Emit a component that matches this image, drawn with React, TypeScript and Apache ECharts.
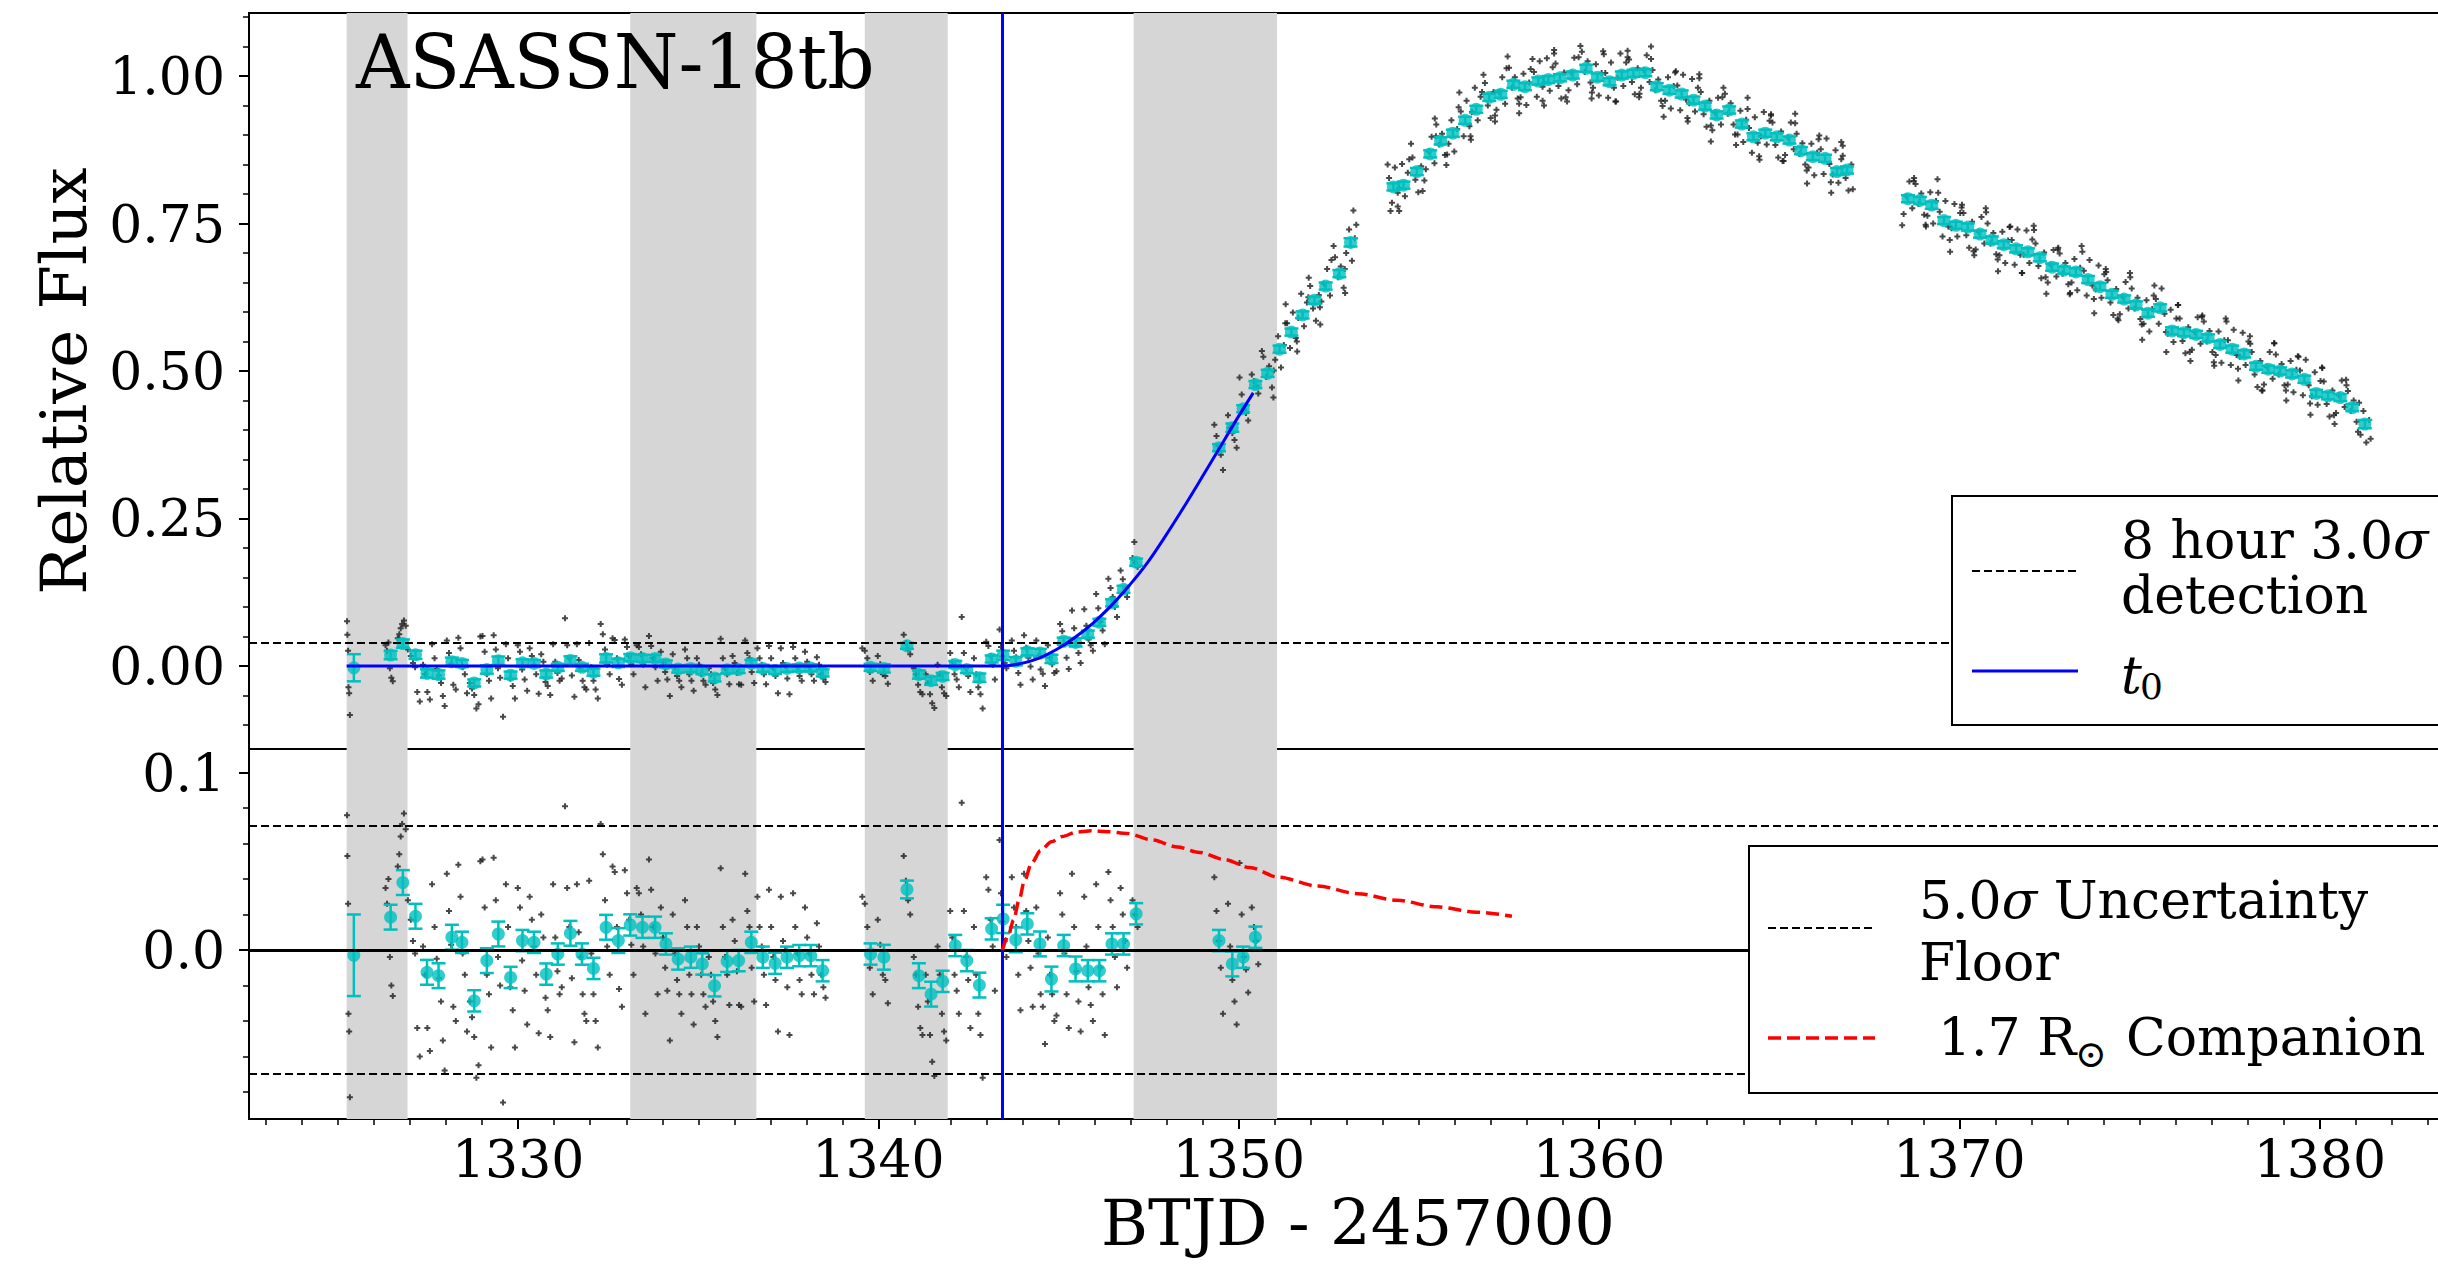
import React, { useEffect, useRef } from "react";
import * as echarts from "echarts";

const FONT = "'DejaVu Serif', 'Liberation Serif', serif";
const CYAN = "#00bfbf";

// ---- axes ----
const xRange = [1322.53, 1386];
const topRange = [-0.1407, 1.1068];
const botRange = [-0.0953, 0.1133];
const xTicks = [1330, 1340, 1350, 1360, 1370, 1380];
const topTicks = [0, 0.25, 0.5, 0.75, 1.0];
const botTicks = [0, 0.1];

// ---- reference marks ----
const gapBands = [
  [1325.24, 1326.93],
  [1333.11, 1336.61],
  [1339.62, 1341.92],
  [1347.08, 1351.06],
];
const t0 = 1343.44;
const detectionLevel = 0.0395;
const floorUpper = 0.066;
const floorLower = -0.067;

// ---- binned (8 hour) points: [BTJD, value, error] ----
const baseBins = [
  [1325.44, -0.003, 0.023], [1326.46, 0.0185, 0.007], [1326.8, 0.038, 0.007], [1327.15, 0.019, 0.007],
  [1327.47, -0.0126, 0.007], [1327.79, -0.0145, 0.007], [1328.16, 0.0072, 0.007], [1328.44, 0.0043, 0.006],
  [1328.78, -0.0287, 0.006], [1329.13, -0.006, 0.007], [1329.45, 0.009, 0.007], [1329.79, -0.0155, 0.006],
  [1330.12, 0.0053, 0.006], [1330.44, 0.0043, 0.006], [1330.78, -0.0136, 0.006], [1331.1, -0.0023, 0.006],
  [1331.45, 0.0094, 0.007], [1331.77, -0.0023, 0.006], [1332.09, -0.0104, 0.006], [1332.44, 0.0128, 0.007],
  [1332.78, 0.0053, 0.007], [1333.11, 0.0141, 0.006], [1333.45, 0.0128, 0.006], [1333.8, 0.0128, 0.006],
  [1334.1, 0.0034, 0.006], [1334.44, -0.0051, 0.006], [1334.79, -0.0041, 0.006], [1335.11, -0.0079, 0.006],
  [1335.45, -0.0202, 0.006], [1335.8, -0.0064, 0.006], [1336.12, -0.006, 0.006], [1336.47, 0.0043, 0.006],
  [1336.79, -0.0041, 0.006], [1337.13, -0.0075, 0.006], [1337.46, -0.0041, 0.006], [1337.8, -0.0032, 0.006],
  [1338.12, -0.0032, 0.006], [1338.45, -0.0117, 0.006], [1339.78, -0.0023, 0.006], [1340.15, -0.0041, 0.007],
  [1340.79, 0.0341, 0.005], [1341.12, -0.0145, 0.007], [1341.46, -0.0249, 0.007], [1341.78, -0.0177, 0.006],
  [1342.13, 0.0025, 0.006], [1342.45, -0.006, 0.006], [1342.8, -0.0198, 0.007], [1343.14, 0.0119, 0.006],
];
const riseResidBins = [
  [1343.46, 0.0175, 0.008], [1343.81, 0.0057, 0.007], [1344.13, 0.0147, 0.006], [1344.48, 0.0034, 0.007],
  [1344.8, -0.0164, 0.007], [1345.14, 0.0025, 0.006], [1345.47, -0.0107, 0.007], [1345.81, -0.0117, 0.006],
  [1346.13, -0.0117, 0.006], [1346.48, 0.0034, 0.006], [1346.8, 0.0034, 0.006], [1347.15, 0.0204, 0.006],
  [1349.45, 0.0053, 0.006], [1349.82, -0.0079, 0.007], [1350.12, -0.0041, 0.006], [1350.46, 0.0072, 0.006],
];
const riseFluxBins = [
  [1343.46, 0.018, 0.008], [1343.81, 0.008, 0.007], [1344.13, 0.024, 0.006], [1344.48, 0.022, 0.007],
  [1344.8, 0.012, 0.007], [1345.14, 0.042, 0.006], [1345.47, 0.04, 0.007], [1345.81, 0.054, 0.006],
  [1346.13, 0.074, 0.006], [1346.48, 0.107, 0.006], [1346.8, 0.13, 0.006], [1347.15, 0.176, 0.006],
  [1349.45, 0.37, 0.006], [1349.82, 0.404, 0.007], [1350.12, 0.436, 0.006], [1350.46, 0.477, 0.006],
];
const lateBins = [
  [1350.8, 0.496, 0.006], [1351.13, 0.537, 0.006], [1351.46, 0.566, 0.006], [1351.77, 0.595, 0.006],
  [1352.1, 0.62, 0.006], [1352.41, 0.644, 0.006], [1352.79, 0.665, 0.006], [1353.1, 0.718, 0.007],
  [1354.29, 0.812, 0.006], [1354.57, 0.815, 0.006], [1354.94, 0.838, 0.006], [1355.31, 0.868, 0.006],
  [1355.6, 0.89, 0.006], [1355.94, 0.903, 0.006], [1356.28, 0.925, 0.006], [1356.59, 0.9435, 0.006],
  [1356.95, 0.9638, 0.006], [1357.27, 0.969, 0.006], [1357.62, 0.986, 0.006], [1357.94, 0.982, 0.006],
  [1358.31, 0.9915, 0.006], [1358.59, 0.994, 0.006], [1358.91, 0.997, 0.006], [1359.27, 1.0017, 0.006],
  [1359.64, 1.013, 0.006], [1359.95, 0.998, 0.006], [1360.29, 0.9903, 0.006], [1360.63, 1.0017, 0.006],
  [1360.95, 1.0045, 0.006], [1361.28, 1.0056, 0.006], [1361.6, 0.982, 0.006], [1361.95, 0.976, 0.006],
  [1362.29, 0.9695, 0.006], [1362.62, 0.959, 0.006], [1362.94, 0.949, 0.006], [1363.26, 0.934, 0.006],
  [1363.61, 0.9424, 0.006], [1363.96, 0.9186, 0.006], [1364.28, 0.897, 0.006], [1364.61, 0.903, 0.006],
  [1364.93, 0.897, 0.006], [1365.28, 0.8915, 0.006], [1365.6, 0.8735, 0.006], [1365.93, 0.8633, 0.006],
  [1366.27, 0.8605, 0.006], [1366.6, 0.838, 0.006], [1366.88, 0.8407, 0.006],
  [1368.57, 0.792, 0.006], [1368.9, 0.789, 0.006], [1369.23, 0.781, 0.006], [1369.57, 0.755, 0.006],
  [1369.9, 0.747, 0.006], [1370.23, 0.744, 0.006], [1370.57, 0.732, 0.006], [1370.9, 0.722, 0.006],
  [1371.23, 0.714, 0.006], [1371.57, 0.707, 0.006], [1371.9, 0.702, 0.006], [1372.23, 0.692, 0.006],
  [1372.57, 0.676, 0.006], [1372.9, 0.671, 0.006], [1373.23, 0.668, 0.006], [1373.57, 0.655, 0.006],
  [1373.9, 0.643, 0.006], [1374.23, 0.63, 0.006], [1374.57, 0.622, 0.006], [1374.9, 0.612, 0.006],
  [1375.23, 0.598, 0.006], [1375.57, 0.607, 0.006], [1375.9, 0.568, 0.006], [1376.23, 0.565, 0.006],
  [1376.57, 0.562, 0.006], [1376.9, 0.556, 0.006], [1377.23, 0.545, 0.006], [1377.57, 0.537, 0.006],
  [1377.9, 0.529, 0.006], [1378.23, 0.508, 0.006], [1378.57, 0.503, 0.006], [1378.9, 0.5, 0.006],
  [1379.23, 0.495, 0.006], [1379.57, 0.486, 0.006], [1379.9, 0.462, 0.006], [1380.23, 0.458, 0.006],
  [1380.57, 0.455, 0.006], [1380.9, 0.438, 0.006], [1381.25, 0.41, 0.007],
];

// ---- individual (unbinned) points: [BTJD, value] ----
// before t0 the model is flat at zero, so flux and residual coincide
const baseRaw = [
  [1325.25, 0.076], [1325.26, 0.053], [1325.28, 0.026], [1325.29, -0.036], [1325.31, -0.046], [1325.33, -0.083],
  [1326.32, 0.035], [1326.36, 0.026], [1326.4, 0.04], [1326.44, -0.004], [1326.48, -0.02], [1326.52, -0.026],
  [1326.66, 0.047], [1326.7, 0.054], [1326.74, 0.064], [1326.78, 0.071], [1326.83, 0.077], [1326.88, 0.068], [1326.94, 0.028],
  [1327.02, 0.017], [1327.08, 0.005], [1327.14, -0.002], [1327.2, -0.044], [1327.27, -0.06],
  [1327.36, 0.002], [1327.42, -0.014], [1327.48, -0.044], [1327.55, -0.057], [1327.61, 0.037],
  [1327.68, 0.013], [1327.74, -0.005], [1327.8, -0.016], [1327.86, -0.029], [1327.91, -0.051], [1327.96, -0.068],
  [1328.02, 0.043], [1328.08, 0.022], [1328.14, 0.003], [1328.2, -0.032], [1328.27, -0.04],
  [1328.34, 0.048], [1328.4, 0.03], [1328.46, -0.002], [1328.52, -0.014], [1328.58, -0.046],
  [1328.66, -0.029], [1328.72, -0.038], [1328.78, -0.049], [1328.84, -0.072], [1328.9, -0.065], [1328.95, 0.05],
  [1329.01, 0.051], [1329.07, 0.024], [1329.13, -0.014], [1329.19, -0.025], [1329.25, -0.055],
  [1329.32, 0.052], [1329.38, 0.028], [1329.44, -0.004], [1329.5, -0.02], [1329.58, -0.086],
  [1329.66, 0.037], [1329.72, 0.013], [1329.78, -0.021], [1329.85, -0.034], [1329.91, -0.055],
  [1329.99, 0.035], [1330.05, 0.024], [1330.11, -0.006], [1330.18, -0.023], [1330.25, -0.042],
  [1330.32, 0.03], [1330.38, 0.017], [1330.44, 0.002], [1330.5, -0.014], [1330.57, -0.047],
  [1330.64, 0.02], [1330.7, 0.007], [1330.76, -0.027], [1330.82, -0.034], [1330.89, -0.049],
  [1330.97, 0.037], [1331.03, 0.007], [1331.09, -0.012], [1331.15, -0.025], [1331.21, -0.021],
  [1331.3, 0.081], [1331.36, 0.035], [1331.42, 0.013], [1331.49, -0.016], [1331.56, -0.052],
  [1331.63, 0.037], [1331.68, 0.01], [1331.73, -0.004], [1331.79, -0.025], [1331.84, -0.036], [1331.89, -0.04],
  [1331.97, 0.039], [1332.03, -0.002], [1332.09, -0.025], [1332.15, -0.04], [1332.21, -0.055],
  [1332.29, 0.071], [1332.35, 0.054], [1332.41, 0.028], [1332.47, 0.002], [1332.54, -0.014],
  [1332.62, 0.047], [1332.68, 0.044], [1332.74, 0.013], [1332.8, -0.022], [1332.88, -0.032],
  [1332.96, 0.045], [1333.02, 0.032], [1333.08, 0.017], [1333.14, 0.003], [1333.2, -0.014],
  [1333.29, 0.035], [1333.35, 0.032], [1333.41, 0.02], [1333.47, 0.002], [1333.53, -0.036],
  [1333.63, 0.051], [1333.69, 0.034], [1333.75, 0.013], [1333.81, -0.002], [1333.87, -0.025],
  [1333.96, 0.024], [1334.02, 0.007], [1334.08, -0.01], [1334.14, -0.023], [1334.21, -0.051],
  [1334.29, 0.02], [1334.35, -0.002], [1334.41, -0.017], [1334.47, -0.025], [1334.53, -0.036],
  [1334.63, 0.028], [1334.69, 0.013], [1334.75, -0.014], [1334.81, -0.025], [1334.87, -0.042],
  [1334.96, 0.013], [1335.02, 0.002], [1335.08, -0.014], [1335.14, -0.025], [1335.2, -0.032],
  [1335.29, -0.004], [1335.35, -0.014], [1335.41, -0.029], [1335.47, -0.04], [1335.53, -0.049],
  [1335.62, 0.046], [1335.68, 0.013], [1335.74, -0.004], [1335.8, -0.014], [1335.86, -0.031],
  [1335.95, 0.017], [1336.01, 0.005], [1336.07, -0.012], [1336.13, -0.031], [1336.19, -0.032],
  [1336.3, 0.043], [1336.36, 0.022], [1336.42, 0.013], [1336.48, -0.01], [1336.55, -0.029],
  [1336.64, 0.03], [1336.7, 0.013], [1336.76, 0.002], [1336.82, -0.014], [1336.88, -0.031],
  [1336.96, 0.034], [1337.02, 0.013], [1337.08, -0.004], [1337.14, -0.017], [1337.21, -0.046],
  [1337.29, 0.03], [1337.35, 0.005], [1337.41, 0.0], [1337.47, -0.021], [1337.53, -0.048],
  [1337.63, 0.032], [1337.69, 0.013], [1337.75, -0.002], [1337.81, -0.017], [1337.87, -0.025],
  [1337.96, 0.024], [1338.02, 0.007], [1338.08, -0.002], [1338.14, -0.014], [1338.21, -0.025],
  [1338.29, 0.015], [1338.35, 0.002], [1338.41, -0.014], [1338.47, -0.021], [1338.53, -0.027],
  [1339.55, 0.03], [1339.62, 0.026], [1339.69, 0.013], [1339.76, -0.01], [1339.84, -0.025],
  [1339.98, 0.017], [1340.05, 0.003], [1340.12, -0.014], [1340.19, -0.017], [1340.26, -0.03],
  [1340.7, 0.053], [1340.76, 0.039], [1340.82, 0.028], [1340.88, 0.02],
  [1340.98, -0.004], [1341.04, -0.014], [1341.1, -0.032], [1341.16, -0.044], [1341.22, -0.048],
  [1341.31, -0.014], [1341.37, -0.029], [1341.43, -0.048], [1341.49, -0.063], [1341.55, -0.071],
  [1341.64, 0.002], [1341.7, -0.014], [1341.76, -0.036], [1341.82, -0.046], [1341.88, -0.051],
  [1341.99, 0.022], [1342.05, 0.007], [1342.11, -0.014], [1342.17, -0.023], [1342.23, -0.036],
  [1342.31, 0.083], [1342.37, 0.022], [1342.43, -0.004], [1342.49, -0.017], [1342.55, -0.044],
  [1342.65, 0.013], [1342.71, -0.014], [1342.77, -0.036], [1342.83, -0.048], [1342.89, -0.072],
  [1342.99, 0.041], [1343.05, 0.034], [1343.11, 0.017], [1343.17, 0.002], [1343.23, -0.023],
];
const riseRawResid = [
  [1343.36, 0.062], [1343.4, 0.032], [1343.44, 0.016], [1343.5, 0.005], [1343.55, -0.004],
  [1343.7, 0.041], [1343.76, 0.024], [1343.82, 0.013], [1343.88, -0.014], [1343.94, -0.034],
  [1344.04, 0.043], [1344.1, 0.022], [1344.16, 0.005], [1344.22, -0.01], [1344.28, -0.032],
  [1344.38, 0.024], [1344.44, -0.002], [1344.5, -0.025], [1344.56, -0.032], [1344.62, -0.053],
  [1344.7, 0.007], [1344.76, -0.014], [1344.82, -0.025], [1344.88, -0.04], [1344.94, -0.037],
  [1345.04, 0.032], [1345.1, 0.02], [1345.16, -0.002], [1345.22, -0.025], [1345.28, -0.044],
  [1345.37, 0.043], [1345.43, 0.013], [1345.49, -0.012], [1345.55, -0.029], [1345.61, -0.046],
  [1345.71, 0.03], [1345.77, 0.002], [1345.83, -0.021], [1345.89, -0.031], [1345.95, -0.04],
  [1346.04, 0.037], [1346.1, 0.013], [1346.16, -0.01], [1346.22, -0.025], [1346.28, -0.048],
  [1346.38, 0.044], [1346.44, 0.028], [1346.5, 0.013], [1346.56, -0.004], [1346.62, -0.021],
  [1346.72, 0.035], [1346.78, 0.02], [1346.84, 0.005], [1346.9, -0.01],
  [1347.05, 0.028], [1347.12, 0.02], [1347.19, 0.013],
  [1349.32, 0.041], [1349.38, 0.022], [1349.44, 0.005], [1349.5, -0.01], [1349.56, -0.036],
  [1349.7, 0.026], [1349.76, 0.002], [1349.82, -0.017], [1349.88, -0.029], [1349.94, -0.042],
  [1350.02, 0.049], [1350.08, 0.02], [1350.14, -0.004], [1350.2, -0.011], [1350.26, -0.024],
  [1350.36, 0.024], [1350.42, 0.013], [1350.48, 0.005], [1350.54, -0.008],
];
const riseRawFlux = [
  [1343.36, 0.062], [1343.4, 0.032], [1343.44, 0.016], [1343.5, 0.005], [1343.55, -0.004],
  [1343.7, 0.043], [1343.76, 0.026], [1343.82, 0.015], [1343.88, -0.012], [1343.94, -0.032],
  [1344.04, 0.052], [1344.1, 0.031], [1344.16, 0.014], [1344.22, -0.001], [1344.28, -0.023],
  [1344.38, 0.043], [1344.44, 0.017], [1344.5, -0.006], [1344.56, -0.013], [1344.62, -0.034],
  [1344.7, 0.035], [1344.76, 0.014], [1344.82, 0.003], [1344.88, -0.012], [1344.94, -0.009],
  [1345.04, 0.071], [1345.1, 0.059], [1345.16, 0.037], [1345.22, 0.014], [1345.28, -0.005],
  [1345.37, 0.094], [1345.43, 0.064], [1345.49, 0.039], [1345.55, 0.022], [1345.61, 0.005],
  [1345.71, 0.096], [1345.77, 0.068], [1345.83, 0.045], [1345.89, 0.035], [1345.95, 0.026],
  [1346.04, 0.122], [1346.1, 0.098], [1346.16, 0.075], [1346.22, 0.06], [1346.28, 0.037],
  [1346.38, 0.148], [1346.44, 0.132], [1346.5, 0.117], [1346.56, 0.1], [1346.62, 0.083],
  [1346.72, 0.162], [1346.78, 0.147], [1346.84, 0.132], [1346.9, 0.117],
  [1347.05, 0.183], [1347.1, 0.21], [1347.12, 0.175], [1347.19, 0.168],
  [1349.32, 0.409], [1349.38, 0.39], [1349.44, 0.373], [1349.5, 0.358], [1349.56, 0.332],
  [1349.7, 0.425], [1349.76, 0.404], [1349.82, 0.395], [1349.88, 0.383], [1349.94, 0.37],
  [1350.02, 0.489], [1350.08, 0.46], [1350.14, 0.436], [1350.2, 0.429], [1350.26, 0.416],
  [1350.36, 0.494], [1350.42, 0.483], [1350.48, 0.475], [1350.54, 0.462],
];
const lateRaw = [
  [1350.68, 0.524], [1350.76, 0.49], [1350.84, 0.508], [1350.92, 0.472],
  [1351.01, 0.519], [1351.09, 0.559], [1351.17, 0.506], [1351.25, 0.544],
  [1351.34, 0.581], [1351.42, 0.539], [1351.5, 0.599], [1351.58, 0.556],
  [1351.65, 0.59], [1351.73, 0.631], [1351.81, 0.576], [1351.89, 0.616],
  [1351.98, 0.644], [1352.06, 0.606], [1352.14, 0.585], [1352.22, 0.629],
  [1352.29, 0.618], [1352.37, 0.648], [1352.45, 0.673], [1352.53, 0.628],
  [1352.67, 0.693], [1352.75, 0.659], [1352.83, 0.677], [1352.91, 0.641],
  [1352.98, 0.7], [1353.06, 0.74], [1353.14, 0.687], [1353.18, 0.772], [1353.22, 0.725],
  [1354.17, 0.827], [1354.21, 0.771], [1354.25, 0.785], [1354.33, 0.845], [1354.41, 0.802],
  [1354.45, 0.81], [1354.53, 0.851], [1354.61, 0.796], [1354.69, 0.836],
  [1354.82, 0.862], [1354.9, 0.824], [1354.98, 0.803], [1355.06, 0.847],
  [1355.19, 0.842], [1355.27, 0.872], [1355.35, 0.897], [1355.43, 0.852],
  [1355.48, 0.918], [1355.56, 0.884], [1355.64, 0.902], [1355.72, 0.866],
  [1355.82, 0.885], [1355.9, 0.925], [1355.98, 0.872], [1356.06, 0.91],
  [1356.16, 0.94], [1356.24, 0.898], [1356.32, 0.958], [1356.4, 0.915],
  [1356.47, 0.939], [1356.55, 0.98], [1356.63, 0.925], [1356.71, 0.965],
  [1356.83, 0.988], [1356.91, 0.95], [1356.99, 0.929], [1357.07, 0.973],
  [1357.15, 0.943], [1357.23, 0.973], [1357.31, 0.998], [1357.39, 0.953],
  [1357.5, 1.014], [1357.58, 0.98], [1357.66, 0.998], [1357.74, 0.962],
  [1357.82, 0.964], [1357.9, 1.004], [1357.98, 0.951], [1358.06, 0.989],
  [1358.19, 1.007], [1358.27, 0.965], [1358.35, 1.025], [1358.43, 0.982],
  [1358.47, 0.989], [1358.55, 1.03], [1358.63, 0.975], [1358.71, 1.015],
  [1358.79, 1.021], [1358.87, 0.983], [1358.95, 0.962], [1359.03, 1.006],
  [1359.15, 0.976], [1359.23, 1.006], [1359.31, 1.031], [1359.39, 0.986],
  [1359.52, 1.041], [1359.6, 1.007], [1359.68, 1.025], [1359.76, 0.989],
  [1359.83, 0.98], [1359.91, 1.02], [1359.99, 0.967], [1360.07, 1.005],
  [1360.17, 1.005], [1360.25, 0.963], [1360.33, 1.023], [1360.41, 0.98],
  [1360.51, 0.997], [1360.59, 1.038], [1360.67, 0.983], [1360.75, 1.023],
  [1360.83, 1.028], [1360.91, 0.99], [1360.99, 0.969], [1361.07, 1.013],
  [1361.16, 0.98], [1361.24, 1.01], [1361.32, 1.035], [1361.4, 0.99],
  [1361.48, 1.01], [1361.56, 0.976], [1361.64, 0.994], [1361.72, 0.958],
  [1361.83, 0.958], [1361.91, 0.998], [1361.99, 0.945], [1362.07, 0.983],
  [1362.17, 0.984], [1362.25, 0.942], [1362.33, 1.002], [1362.41, 0.96],
  [1362.5, 0.954], [1362.58, 0.995], [1362.66, 0.94], [1362.74, 0.98],
  [1362.82, 0.973], [1362.9, 0.935], [1362.98, 0.914], [1363.06, 0.958],
  [1363.14, 0.908], [1363.22, 0.938], [1363.3, 0.963], [1363.38, 0.918],
  [1363.49, 0.97], [1363.57, 0.936], [1363.65, 0.954], [1363.73, 0.918],
  [1363.84, 0.901], [1363.92, 0.941], [1364.0, 0.888], [1364.08, 0.926],
  [1364.16, 0.912], [1364.24, 0.87], [1364.32, 0.93], [1364.4, 0.887],
  [1364.49, 0.898], [1364.57, 0.939], [1364.65, 0.884], [1364.73, 0.924],
  [1364.81, 0.921], [1364.89, 0.883], [1364.97, 0.862], [1365.05, 0.906],
  [1365.16, 0.866], [1365.24, 0.896], [1365.32, 0.921], [1365.4, 0.876],
  [1365.48, 0.902], [1365.56, 0.868], [1365.64, 0.886], [1365.72, 0.85],
  [1365.81, 0.845], [1365.89, 0.885], [1365.97, 0.832], [1366.05, 0.87],
  [1366.15, 0.876], [1366.23, 0.834], [1366.31, 0.894], [1366.39, 0.851],
  [1366.48, 0.833], [1366.56, 0.874], [1366.64, 0.819], [1366.72, 0.859],
  [1366.76, 0.865], [1366.84, 0.827], [1366.92, 0.806], [1367.0, 0.85],
  [1368.45, 0.766], [1368.53, 0.796], [1368.61, 0.821], [1368.69, 0.776],
  [1368.78, 0.817], [1368.86, 0.783], [1368.94, 0.801], [1369.02, 0.765],
  [1369.11, 0.763], [1369.19, 0.803], [1369.27, 0.75], [1369.35, 0.788],
  [1369.45, 0.77], [1369.53, 0.728], [1369.61, 0.788], [1369.69, 0.745],
  [1369.78, 0.742], [1369.86, 0.783], [1369.94, 0.728], [1370.02, 0.768],
  [1370.11, 0.768], [1370.19, 0.73], [1370.27, 0.709], [1370.35, 0.753],
  [1370.45, 0.706], [1370.53, 0.736], [1370.61, 0.761], [1370.69, 0.716],
  [1370.78, 0.75], [1370.86, 0.716], [1370.94, 0.734], [1371.02, 0.698],
  [1371.11, 0.696], [1371.19, 0.736], [1371.27, 0.683], [1371.35, 0.721],
  [1371.45, 0.722], [1371.53, 0.68], [1371.61, 0.74], [1371.69, 0.697],
  [1371.78, 0.697], [1371.86, 0.738], [1371.94, 0.683], [1372.02, 0.723],
  [1372.11, 0.716], [1372.19, 0.678], [1372.27, 0.657], [1372.35, 0.701],
  [1372.45, 0.65], [1372.53, 0.68], [1372.61, 0.705], [1372.69, 0.66],
  [1372.78, 0.699], [1372.86, 0.665], [1372.94, 0.683], [1373.02, 0.647],
  [1373.11, 0.65], [1373.19, 0.69], [1373.27, 0.637], [1373.35, 0.675],
  [1373.45, 0.67], [1373.53, 0.628], [1373.61, 0.688], [1373.69, 0.645],
  [1373.78, 0.638], [1373.86, 0.679], [1373.94, 0.624], [1374.02, 0.664],
  [1374.11, 0.654], [1374.19, 0.616], [1374.27, 0.595], [1374.35, 0.639],
  [1374.45, 0.596], [1374.53, 0.626], [1374.61, 0.651], [1374.69, 0.606],
  [1374.78, 0.64], [1374.86, 0.606], [1374.94, 0.624], [1375.02, 0.588],
  [1375.11, 0.58], [1375.19, 0.62], [1375.27, 0.567], [1375.35, 0.605],
  [1375.45, 0.622], [1375.53, 0.58], [1375.61, 0.64], [1375.69, 0.597],
  [1375.78, 0.563], [1375.86, 0.604], [1375.94, 0.549], [1376.02, 0.589],
  [1376.11, 0.589], [1376.19, 0.551], [1376.27, 0.53], [1376.35, 0.574],
  [1376.45, 0.536], [1376.53, 0.566], [1376.61, 0.591], [1376.69, 0.546],
  [1376.78, 0.584], [1376.86, 0.55], [1376.94, 0.568], [1377.02, 0.532],
  [1377.11, 0.527], [1377.19, 0.567], [1377.27, 0.514], [1377.35, 0.552],
  [1377.45, 0.552], [1377.53, 0.51], [1377.61, 0.57], [1377.69, 0.527],
  [1377.78, 0.524], [1377.86, 0.565], [1377.94, 0.51], [1378.02, 0.55],
  [1378.11, 0.532], [1378.19, 0.494], [1378.27, 0.473], [1378.35, 0.517],
  [1378.45, 0.477], [1378.53, 0.507], [1378.61, 0.532], [1378.69, 0.487],
  [1378.78, 0.528], [1378.86, 0.494], [1378.94, 0.512], [1379.02, 0.476],
  [1379.11, 0.477], [1379.19, 0.517], [1379.27, 0.464], [1379.35, 0.502],
  [1379.45, 0.501], [1379.53, 0.459], [1379.61, 0.519], [1379.69, 0.476],
  [1379.78, 0.457], [1379.86, 0.498], [1379.94, 0.443], [1380.02, 0.483],
  [1380.11, 0.482], [1380.19, 0.444], [1380.27, 0.423], [1380.35, 0.467],
  [1380.45, 0.429], [1380.53, 0.459], [1380.61, 0.484], [1380.69, 0.439],
  [1380.78, 0.466], [1380.86, 0.432], [1380.94, 0.45], [1381.02, 0.414],
  [1381.13, 0.392], [1381.21, 0.432], [1381.29, 0.379], [1381.37, 0.417],
];
// outer envelope of the scatter after the rise
const lateRawOuter = [
  [1350.64, 0.534], [1350.96, 0.455], [1350.97, 0.501], [1351.29, 0.581], [1351.3, 0.613], [1351.62, 0.533],
  [1351.61, 0.55], [1351.93, 0.625], [1351.94, 0.658], [1352.26, 0.579], [1352.25, 0.608], [1352.57, 0.688],
  [1352.63, 0.712], [1352.95, 0.632], [1352.94, 0.673], [1353.26, 0.748],
  [1354.13, 0.85], [1354.45, 0.771], [1354.41, 0.779], [1354.73, 0.859], [1354.78, 0.885], [1355.1, 0.805],
  [1355.15, 0.823], [1355.47, 0.898], [1355.44, 0.928], [1355.76, 0.849], [1355.78, 0.867], [1356.1, 0.947],
  [1356.12, 0.972], [1356.44, 0.892], [1356.43, 0.898], [1356.75, 0.973], [1356.79, 1.002], [1357.11, 0.923],
  [1357.11, 0.933], [1357.43, 1.013], [1357.46, 1.033], [1357.78, 0.953], [1357.78, 0.937], [1358.1, 1.012],
  [1358.15, 1.029], [1358.47, 0.95], [1358.43, 0.958], [1358.75, 1.038], [1358.75, 1.044], [1359.07, 0.964],
  [1359.11, 0.957], [1359.43, 1.032], [1359.48, 1.051], [1359.8, 0.972], [1359.79, 0.962], [1360.11, 1.042],
  [1360.13, 1.037], [1360.45, 0.957], [1360.47, 0.957], [1360.79, 1.032], [1360.79, 1.043], [1361.11, 0.964],
  [1361.12, 0.97], [1361.44, 1.05], [1361.44, 1.029], [1361.76, 0.949], [1361.79, 0.931], [1362.11, 1.006],
  [1362.13, 1.008], [1362.45, 0.929], [1362.46, 0.923], [1362.78, 1.003], [1362.78, 0.996], [1363.1, 0.916],
  [1363.1, 0.889], [1363.42, 0.964], [1363.45, 0.98], [1363.77, 0.901], [1363.8, 0.883], [1364.12, 0.963],
  [1364.12, 0.944], [1364.44, 0.864], [1364.45, 0.858], [1364.77, 0.933], [1364.77, 0.935], [1365.09, 0.856],
  [1365.12, 0.856], [1365.44, 0.936], [1365.44, 0.92], [1365.76, 0.84], [1365.77, 0.818], [1366.09, 0.893],
  [1366.11, 0.899], [1366.43, 0.82], [1366.44, 0.802], [1366.76, 0.882], [1366.72, 0.888], [1367.04, 0.808],
  [1368.41, 0.747], [1368.73, 0.822], [1368.74, 0.827], [1369.06, 0.748], [1369.07, 0.745], [1369.39, 0.825],
  [1369.41, 0.802], [1369.73, 0.722], [1369.74, 0.702], [1370.06, 0.777], [1370.07, 0.782], [1370.39, 0.703],
  [1370.41, 0.696], [1370.73, 0.776], [1370.74, 0.769], [1371.06, 0.689], [1371.07, 0.669], [1371.39, 0.744],
  [1371.41, 0.745], [1371.73, 0.666], [1371.74, 0.666], [1372.06, 0.746], [1372.07, 0.739], [1372.39, 0.659],
  [1372.41, 0.631], [1372.73, 0.706], [1372.74, 0.709], [1373.06, 0.63], [1373.07, 0.632], [1373.39, 0.712],
  [1373.41, 0.702], [1373.73, 0.622], [1373.74, 0.598], [1374.06, 0.673], [1374.07, 0.668], [1374.39, 0.589],
  [1374.41, 0.586], [1374.73, 0.666], [1374.74, 0.659], [1375.06, 0.579], [1375.07, 0.553], [1375.39, 0.628],
  [1375.41, 0.645], [1375.73, 0.566], [1375.74, 0.532], [1376.06, 0.612], [1376.07, 0.612], [1376.39, 0.532],
  [1376.41, 0.517], [1376.73, 0.592], [1376.74, 0.594], [1377.06, 0.515], [1377.07, 0.509], [1377.39, 0.589],
  [1377.41, 0.584], [1377.73, 0.504], [1377.74, 0.484], [1378.06, 0.559], [1378.07, 0.546], [1378.39, 0.467],
  [1378.41, 0.467], [1378.73, 0.547], [1378.74, 0.547], [1379.06, 0.467], [1379.07, 0.45], [1379.39, 0.525],
  [1379.41, 0.524], [1379.73, 0.445], [1379.74, 0.426], [1380.06, 0.506], [1380.07, 0.505], [1380.39, 0.425],
  [1380.41, 0.41], [1380.73, 0.485], [1380.74, 0.476], [1381.06, 0.397], [1381.09, 0.446], [1381.41, 0.385],
];

// ---- model curves ----
const modelCurve = [
  [1325.24, 0], [1343.44, 0], [1343.94, 0.004], [1344.44, 0.013], [1344.94, 0.028], [1345.44, 0.048],
  [1345.94, 0.072], [1346.44, 0.101], [1346.94, 0.135], [1347.44, 0.173], [1347.94, 0.218], [1348.44, 0.266],
  [1348.94, 0.316], [1349.44, 0.367], [1349.94, 0.418], [1350.4, 0.463],
];
const companionCurve = [
  [1343.44, 0], [1343.6, 0.008], [1343.75, 0.017], [1343.9, 0.028], [1344.05, 0.039], [1344.25, 0.049],
  [1344.5, 0.056], [1344.8, 0.061], [1345.1, 0.064], [1345.5, 0.0665], [1345.9, 0.0672], [1346.35, 0.0667],
  [1346.9, 0.0657], [1347.6, 0.062], [1348.3, 0.058], [1348.9, 0.055], [1349.6, 0.051], [1350.3, 0.0465],
  [1351.1, 0.041], [1352.2, 0.036], [1353.3, 0.0317], [1354.4, 0.028], [1355.5, 0.0243], [1356.6, 0.0213],
  [1357.58, 0.019],
];

const topLegendLabels = ["8 hour 3.0{s|σ}", "detection", "t", "0"];
const bottomLegendLabels = ["5.0{s|σ} Uncertainty", "Floor", "1.7 R", "⊙", "Companion"];
const title = "ASASSN-18tb";
const yName = "Relative Flux";
const xName = "BTJD - 2457000";

const PLUS = "path://M2 0H4V2H6V4H4V6H2V4H0V2H2Z";

const errRender = (params: any, api: any) => {
  const x = api.value(0);
  const y = api.value(1);
  const e = api.value(2);
  const p1 = api.coord([x, y + e]);
  const p2 = api.coord([x, y - e]);
  const w = 7;
  const style = { stroke: CYAN, lineWidth: 2.5 };
  return {
    type: "group",
    children: [
      { type: "line", shape: { x1: p1[0], y1: p1[1], x2: p2[0], y2: p2[1] }, style },
      { type: "line", shape: { x1: p1[0] - w, y1: p1[1], x2: p1[0] + w, y2: p1[1] }, style },
      { type: "line", shape: { x1: p2[0] - w, y1: p2[1], x2: p2[0] + w, y2: p2[1] }, style },
    ],
  };
};

const bandArea = gapBands.map(([a, b]) => [{ xAxis: a }, { xAxis: b }]);

function buildOption() {
  const topBins = [...baseBins, ...riseFluxBins, ...lateBins];
  const botBins = [...baseBins, ...riseResidBins];
  const topRaw = [...baseRaw, ...riseRawFlux, ...lateRaw, ...lateRawOuter];
  const botRaw = [...baseRaw, ...riseRawResid];

  const axisLabelStyle = { fontFamily: FONT, fontSize: 52, color: "#000" };
  const tickLine = { color: "#000", width: 2 };
  const minorLine = { color: "#000", width: 1.5 };

  const text = (x: number, y: number, t: string, size: number, extra: any = {}) => ({
    type: "text",
    x,
    y,
    z: 110,
    style: {
      text: t,
      fontFamily: FONT,
      fontSize: size,
      fill: "#000",
      align: "left",
      verticalAlign: "middle",
      rich: { s: { fontFamily: FONT, fontSize: size, fontStyle: "italic", fill: "#000" } },
      ...extra,
    },
  });

  const gridCommon = { show: true, borderColor: "#000", borderWidth: 2, outerBoundsMode: "none" };

  return {
    animation: false,
    backgroundColor: "#fff",
    grid: [
      { ...gridCommon, left: 249, top: 13, width: 2287, height: 736 },
      { ...gridCommon, left: 249, top: 749, width: 2287, height: 370 },
    ],
    xAxis: [
      {
        type: "value", gridIndex: 0, min: xRange[0], max: xRange[1], minInterval: 10, maxInterval: 10,
        axisLine: { show: false }, axisTick: { show: false }, axisLabel: { show: false },
        minorTick: { show: false }, splitLine: { show: false },
      },
      {
        type: "value", gridIndex: 1, min: xRange[0], max: xRange[1], minInterval: 10, maxInterval: 10,
        axisLine: { show: true, onZero: false, lineStyle: { color: "#000", width: 2 } },
        axisTick: { show: true, length: 10, lineStyle: tickLine, customValues: xTicks },
        minorTick: { show: true, splitNumber: 10, length: 6, lineStyle: minorLine },
        axisLabel: { ...axisLabelStyle, margin: 14, customValues: xTicks, formatter: (v: number) => String(Math.round(v)) },
        splitLine: { show: false },
      },
    ],
    yAxis: [
      {
        type: "value", gridIndex: 0, min: topRange[0], max: topRange[1], minInterval: 0.25, maxInterval: 0.25,
        axisLine: { show: true, lineStyle: { color: "#000", width: 2 } },
        axisTick: { show: true, length: 10, lineStyle: tickLine, customValues: topTicks },
        minorTick: { show: true, splitNumber: 5, length: 6, lineStyle: minorLine },
        axisLabel: { ...axisLabelStyle, margin: 24, customValues: topTicks, formatter: (v: number) => v.toFixed(2) },
        splitLine: { show: false },
      },
      {
        type: "value", gridIndex: 1, min: botRange[0], max: botRange[1], minInterval: 0.1, maxInterval: 0.1,
        axisLine: { show: true, lineStyle: { color: "#000", width: 2 } },
        axisTick: { show: true, length: 10, lineStyle: tickLine, customValues: botTicks },
        minorTick: { show: true, splitNumber: 5, length: 6, lineStyle: minorLine },
        axisLabel: { ...axisLabelStyle, margin: 24, customValues: botTicks, formatter: (v: number) => v.toFixed(1) },
        splitLine: { show: false },
      },
    ],
    series: [
      // ---------- top panel ----------
      {
        type: "scatter", xAxisIndex: 0, yAxisIndex: 0, z: 2, silent: true,
        data: topRaw, symbol: PLUS, symbolSize: 6, itemStyle: { color: "#1a1a1a" },
        markArea: { silent: true, z: 1, itemStyle: { color: "#d6d6d6", opacity: 1 }, data: bandArea },
      },
      {
        type: "custom", xAxisIndex: 0, yAxisIndex: 0, z: 3, silent: true,
        renderItem: errRender, encode: { x: 0, y: 1 }, data: topBins,
      },
      {
        type: "scatter", xAxisIndex: 0, yAxisIndex: 0, z: 4, silent: true,
        data: topBins.map((d) => [d[0], d[1]]), symbol: "circle", symbolSize: 13, itemStyle: { color: CYAN },
      },
      {
        type: "line", xAxisIndex: 0, yAxisIndex: 0, z: 6, silent: true,
        data: modelCurve, showSymbol: false, smooth: 0.4,
        lineStyle: { color: "#0000ff", width: 3 },
        markLine: {
          silent: true, symbol: ["none", "none"], label: { show: false }, z: 5,
          data: [
            { yAxis: detectionLevel, lineStyle: { color: "#000", width: 2, type: [8, 4] } },
            { xAxis: t0, lineStyle: { color: "#0000ff", width: 3, type: "solid" } },
          ],
        },
      },
      // ---------- bottom panel ----------
      {
        type: "scatter", xAxisIndex: 1, yAxisIndex: 1, z: 2, silent: true,
        data: botRaw, symbol: PLUS, symbolSize: 6, itemStyle: { color: "#1a1a1a" },
        markArea: { silent: true, z: 1, itemStyle: { color: "#d6d6d6", opacity: 1 }, data: bandArea },
      },
      {
        type: "custom", xAxisIndex: 1, yAxisIndex: 1, z: 3, silent: true,
        renderItem: errRender, encode: { x: 0, y: 1 }, data: botBins,
      },
      {
        type: "scatter", xAxisIndex: 1, yAxisIndex: 1, z: 4, silent: true,
        data: botBins.map((d) => [d[0], d[1]]), symbol: "circle", symbolSize: 13, itemStyle: { color: CYAN },
      },
      {
        type: "line", xAxisIndex: 1, yAxisIndex: 1, z: 6, silent: true,
        data: companionCurve, showSymbol: false, smooth: 0.3, smoothMonotone: "x",
        lineStyle: { color: "#ff0000", width: 3.5, type: [13, 6] },
        markLine: {
          silent: true, symbol: ["none", "none"], label: { show: false }, z: 5,
          data: [
            { yAxis: 0, lineStyle: { color: "#000", width: 3, type: "solid" } },
            { yAxis: floorUpper, lineStyle: { color: "#000", width: 2, type: [8, 4] } },
            { yAxis: floorLower, lineStyle: { color: "#000", width: 2, type: [8, 4] } },
            { xAxis: t0, lineStyle: { color: "#0000ff", width: 3, type: "solid" } },
          ],
        },
      },
    ],
    graphic: [
      text(356, 62, title, 74),
      {
        type: "text", x: 64, y: 381, rotation: Math.PI / 2, z: 110,
        style: { text: yName, fontFamily: FONT, fontSize: 64, fill: "#000", align: "center", verticalAlign: "middle" },
      },
      {
        type: "text", x: 1358, y: 1223, z: 110,
        style: { text: xName, fontFamily: FONT, fontSize: 64, fill: "#000", align: "center", verticalAlign: "middle" },
      },
      // top legend
      { type: "rect", z: 100, shape: { x: 1952, y: 496, width: 700, height: 229 }, style: { fill: "#fff", stroke: "#000", lineWidth: 2 } },
      { type: "line", z: 101, shape: { x1: 1972, y1: 571, x2: 2077, y2: 571 }, style: { stroke: "#000", lineWidth: 2, lineDash: [8, 4] } },
      { type: "line", z: 101, shape: { x1: 1972, y1: 671, x2: 2078, y2: 671 }, style: { stroke: "#0000ff", lineWidth: 3 } },
      text(2121, 540, topLegendLabels[0], 52),
      text(2121, 595, topLegendLabels[1], 52),
      text(2121, 675, topLegendLabels[2], 52, { fontStyle: "italic" }),
      text(2140, 686, topLegendLabels[3], 36),
      // bottom legend
      { type: "rect", z: 100, shape: { x: 1749, y: 846, width: 900, height: 247 }, style: { fill: "#fff", stroke: "#000", lineWidth: 2 } },
      { type: "line", z: 101, shape: { x1: 1768, y1: 928, x2: 1872, y2: 928 }, style: { stroke: "#000", lineWidth: 2, lineDash: [8, 4] } },
      { type: "line", z: 101, shape: { x1: 1768, y1: 1038, x2: 1875, y2: 1038 }, style: { stroke: "#ff0000", lineWidth: 3.5, lineDash: [13, 6] } },
      text(1919, 900, bottomLegendLabels[0], 52),
      text(1919, 962, bottomLegendLabels[1], 52),
      text(1938, 1037, bottomLegendLabels[2], 52),
      text(2075, 1054, bottomLegendLabels[3], 38),
      text(2126, 1037, bottomLegendLabels[4], 52),
    ],
  };
}

export default function App() {
  const ref = useRef<HTMLDivElement>(null);
  useEffect(() => {
    if (!ref.current) return;
    const chart = echarts.init(ref.current, undefined, { renderer: "svg" });
    chart.setOption(buildOption() as any);
    return () => chart.dispose();
  }, []);
  return (
    <div style={{ position: "absolute", left: 0, top: 0, width: 2438, height: 1264, overflow: "hidden", background: "#fff" }}>
      <div ref={ref} style={{ position: "absolute", left: 0, top: 0, width: 2600, height: 1264 }} />
    </div>
  );
}
